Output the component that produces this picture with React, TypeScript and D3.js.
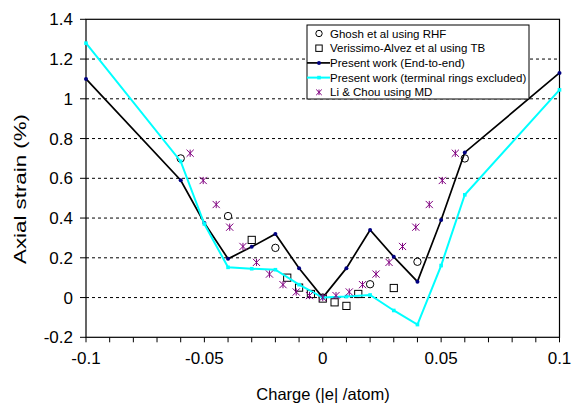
import * as d3 from 'd3';

// Present work series (shared charge grid)
const charge = [-0.1, -0.06, -0.05, -0.04, -0.03, -0.02, -0.01, 0, 0.01, 0.02, 0.03, 0.04, 0.05, 0.06, 0.1];
const endToEnd = [1.1, 0.59, 0.375, 0.195, 0.255, 0.32, 0.147, 0, 0.148, 0.34, 0.205, 0.08, 0.39, 0.73, 1.13];
const terminalExcluded = [1.28, 0.685, 0.37, 0.152, 0.145, 0.14, 0.065, 0, 0.005, 0.013, -0.065, -0.136, 0.161, 0.517, 1.045];

// Ghosh et al using RHF
const ghoshX = [-0.06, -0.04, -0.02, 0, 0.02, 0.04, 0.06];
const ghoshY = [0.7, 0.41, 0.25, 0, 0.067, 0.18, 0.7];

// Verissimo-Alvez et al using TB
const verissimoX = [-0.03, -0.015, -0.01, -0.005, 0, 0.005, 0.01, 0.015, 0.03];
const verissimoY = [0.29, 0.1, 0.05, 0.018, -0.005, -0.024, -0.042, 0.018, 0.048];

// Li & Chou using MD
const liX = [-0.056, -0.0505, -0.045, -0.0393, -0.0337, -0.028, -0.0225, -0.0168, -0.0112, -0.0056, 0,
  0.0056, 0.0112, 0.0168, 0.0225, 0.028, 0.0337, 0.0393, 0.045, 0.0505, 0.056];
const liY = [0.726, 0.589, 0.468, 0.354, 0.257, 0.177, 0.118, 0.065, 0.028, 0.01, 0,
  0.01, 0.028, 0.065, 0.118, 0.177, 0.257, 0.354, 0.468, 0.589, 0.726];

const xTicks = [-0.1, -0.05, 0, 0.05, 0.1];
const yTicks = [-0.2, 0, 0.2, 0.4, 0.6, 0.8, 1, 1.2, 1.4];
const gridValues = [0, 0.2, 0.4, 0.6, 0.8, 1, 1.2];

const legendLabels = [
  'Ghosh et al using RHF',
  'Verissimo-Alvez et al using TB',
  'Present work (End-to-end)',
  'Present work (terminal rings excluded)',
  'Li & Chou using MD',
];

const FONT = 'Liberation Sans, Arial, sans-serif';
const PURPLE = '#800080';
const CYAN = '#00FFFF';
const NAVY = '#000080';

const Star = ({ cx, cy, s = 3.6 }: { cx: number; cy: number; s?: number }) => (
  <g stroke={PURPLE} strokeWidth={1}>
    <line x1={cx - s} y1={cy - s} x2={cx + s} y2={cy + s} />
    <line x1={cx - s} y1={cy + s} x2={cx + s} y2={cy - s} />
    <line x1={cx} y1={cy - s} x2={cx} y2={cy + s} />
  </g>
);

const App = () => {
  const width = 572;
  const height = 405;
  const left = 86;
  const right = 559.5;
  const top = 19.3;
  const bottom = 337.3;

  const x = d3.scaleLinear().domain([-0.1, 0.1]).range([left, right]);
  const y = d3.scaleLinear().domain([-0.2, 1.4]).range([bottom, top]);

  const line = d3
    .line<number>()
    .x((_, i) => x(charge[i]))
    .y((d) => y(d));

  const minorTicks = d3.range(0, 21).map((i) => -0.1 + i * 0.01);

  const legX = 307;
  const legY = 25;
  const rowH = 14.7;

  return (
    <svg width={width} height={height} style={{ position: 'absolute', left: 0, top: 0 }} fontFamily={FONT}>
      <rect width={width} height={height} fill="#fff" />

      {/* grid lines */}
      {gridValues.map((v) => (
        <line key={v} x1={left} x2={right} y1={y(v)} y2={y(v)} stroke="#000" strokeWidth={1} strokeDasharray="3,3" />
      ))}

      {/* frame */}
      <rect x={left} y={top} width={right - left} height={bottom - top} fill="none" stroke="#000" strokeWidth={1.2} />

      {/* y ticks */}
      {yTicks.map((v) => (
        <g key={v}>
          <line x1={left - 6} x2={left} y1={y(v)} y2={y(v)} stroke="#000" />
          <text x={73} y={y(v) + 6} textAnchor="end" fontSize={17}>
            {v === 0 || v === 1 ? String(v) : v.toFixed(1)}
          </text>
        </g>
      ))}

      {/* x ticks */}
      {minorTicks.map((v, i) => (
        <line key={i} x1={x(v)} x2={x(v)} y1={bottom} y2={bottom + 5} stroke="#000" />
      ))}
      {xTicks.map((v) => (
        <text key={v} x={x(v)} y={364} textAnchor="middle" fontSize={17}>
          {v === 0 ? '0' : String(v)}
        </text>
      ))}

      {/* axis titles */}
      <text x={323} y={400} textAnchor="middle" fontSize={16.5}>
        Charge (|e| /atom)
      </text>
      <text
        transform="translate(26,189) rotate(-90)"
        textAnchor="middle"
        fontSize={16.5}
        textLength={150}
        lengthAdjust="spacingAndGlyphs"
      >
        Axial strain (%)
      </text>

      {/* Ghosh circles */}
      {ghoshX.map((v, i) => (
        <circle key={i} cx={x(v)} cy={y(ghoshY[i])} r={3.7} fill="#fff" stroke="#000" strokeWidth={1} />
      ))}

      {/* Verissimo squares */}
      {verissimoX.map((v, i) => (
        <rect key={i} x={x(v) - 3.6} y={y(verissimoY[i]) - 3.6} width={7.2} height={7.2} fill="#fff" stroke="#000" strokeWidth={1} />
      ))}

      {/* end-to-end line */}
      <path d={line(endToEnd) ?? ''} fill="none" stroke="#000" strokeWidth={1.7} />
      {endToEnd.map((v, i) => (
        <circle key={i} cx={x(charge[i])} cy={y(v)} r={2} fill={NAVY} />
      ))}

      {/* terminal rings excluded */}
      <path d={line(terminalExcluded) ?? ''} fill="none" stroke={CYAN} strokeWidth={2} />
      {terminalExcluded.map((v, i) => (
        <rect key={i} x={x(charge[i]) - 1.8} y={y(v) - 1.8} width={3.6} height={3.6} fill={CYAN} />
      ))}

      {/* Li & Chou stars */}
      {liX.map((v, i) => (
        <Star key={i} cx={x(v)} cy={y(liY[i])} />
      ))}

      {/* legend */}
      <rect x={legX} y={legY} width={222} height={74} fill="#fff" stroke="#000" strokeWidth={1} />
      {legendLabels.map((label, i) => {
        const cy = legY + 8.5 + i * rowH;
        const sx = legX + 12;
        return (
          <g key={label}>
            {i === 0 && <circle cx={sx} cy={cy} r={3.2} fill="#fff" stroke="#000" />}
            {i === 1 && <rect x={sx - 3.2} y={cy - 3.2} width={6.4} height={6.4} fill="#fff" stroke="#000" />}
            {i === 2 && (
              <g>
                <line x1={legX} x2={legX + 23} y1={cy} y2={cy} stroke="#000" strokeWidth={1.7} />
                <circle cx={sx} cy={cy} r={2} fill={NAVY} />
              </g>
            )}
            {i === 3 && (
              <g>
                <line x1={legX} x2={legX + 23} y1={cy} y2={cy} stroke={CYAN} strokeWidth={2} />
                <rect x={sx - 1.8} y={cy - 1.8} width={3.6} height={3.6} fill={CYAN} />
              </g>
            )}
            {i === 4 && <Star cx={sx} cy={cy} s={2.8} />}
            <text x={legX + 23} y={cy + 4} fontSize={11.5}>
              {label}
            </text>
          </g>
        );
      })}
    </svg>
  );
};

export default App;
